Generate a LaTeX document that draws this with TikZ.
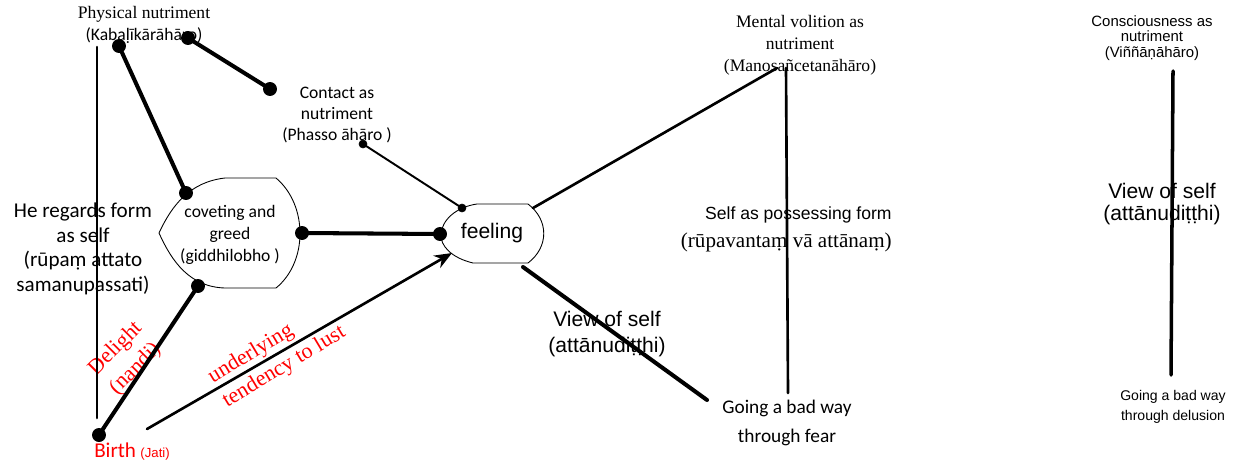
\documentclass[tikz,border=0pt]{standalone}
\usepackage{fontspec}
\setmainfont{Liberation Serif}
\newfontfamily\calibri{Carlito}
\newfontfamily\arial{Liberation Sans}
\usepackage{tikz,tkz-euclide}
\usetikzlibrary{arrows.meta}

\begin{document}
\begin{tikzpicture}[x=0.02cm, y=-0.02cm, >={Stealth[length=10pt,width=8pt]}, line join=round, line cap=round,
	txt/.style={align=center, inner sep=0pt}, lust/.style={txt, text=red, font=\fontsize{12.5}{16}\selectfont}]
	\def \wa{2.3pt} \def \wb{1.5pt}
	\useasboundingbox (0,0) rectangle (1236,463);
	
	\coordinate (P1) at (119,46);
	\coordinate (P2) at (188,38);
	\coordinate (C0) at (270,89);
	\coordinate (C1) at (363,144);
	\coordinate (G1) at (186,193);
	\coordinate (G2) at (198,286);
	\coordinate (G3) at (302,233);
	\coordinate (F1) at (440,234);
	\coordinate (F2) at (462,208);
	\coordinate (F3) at (533,208);
	\coordinate (F4) at (523,267);
	\coordinate (B) at (99,435);
	\coordinate (V1) at (97,47);
	\coordinate (V2) at (97,418);
	\coordinate (A1) at (147,429);
	\coordinate (A2) at (452,253);
	\coordinate (M1) at (777,68);
	\coordinate (M2) at (786,68);
	\coordinate (M3) at (788,393);
	\coordinate (R1) at (707,400);
	\coordinate (K1) at (1173,71);
	\coordinate (K2) at (1171,375);
	
	\node[txt, font=\fontsize{10}{12.5}\selectfont] (phys) at (144,25) {Physical nutriment\\{\calibri (Kabaḷīkārāhāro)}};
	\node[txt, font=\calibri\fontsize{10}{12}\selectfont] (contact) at (337,115) {Contact as\\nutriment\\(Phasso āhāro )};
	\node[txt, font=\fontsize{10}{12.5}\selectfont] (mental) at (800,45) {Mental volition as\\nutriment\\(Manosañcetanāhāro)};
	\node[txt, font=\arial\fontsize{8.5}{8.8}\selectfont] (consc) at (1152,38) {Consciousness as\\nutriment\\(Viññāṇāhāro)};
	
	\node[txt, font=\calibri\fontsize{12}{14}\selectfont] (regards) at (83,249) {He regards form\\as self\\(rūpaṃ attato\\samanupassati)};
	\node[txt, font=\calibri\fontsize{10}{12.5}\selectfont] (greed) at (230,235) {coveting and\\greed\\(giddhilobho )};
	\node[txt, font=\arial\fontsize{12}{14}\selectfont] (feeling) at (492,233) {feeling};
	\node[txt, align=right, anchor=east, font=\fontsize{12}{16}\selectfont] (possess) at (892,229) {{\arial\fontsize{10}{16}\selectfont Self as possessing form}\\(rūpavantaṃ vā attānaṃ)};
	\node[txt, font=\arial\fontsize{12}{14.7}\selectfont] (viewmid) at (607,334) {View of self\\(attānudiṭṭhi)};
	\node[txt, font=\arial\fontsize{12}{12.5}\selectfont] (viewright) at (1162,204) {View of self\\(attānudiṭṭhi)};
	\node[txt, font=\calibri\fontsize{11}{16.4}\selectfont] (fear) at (787,423) {Going a bad way\\through fear};
	\node[txt, font=\arial\fontsize{8}{11.3}\selectfont] (delusion) at (1173,407) {Going a bad way\\through delusion};
	\node[txt, text=red] (birth) at (132,452) {{\calibri\fontsize{12}{14}\selectfont Birth} {\arial\fontsize{7.5}{9}\selectfont (Jati)}};
	\node[lust, rotate=45] (delight) at (126,359) {Delight\\(nandi)};
	\node[lust, align=left, rotate=31] (tendency) at (277,355) {underlying\\tendency to lust};
	
	% coveting and greed
	\draw[line width=0.5pt] (159,233) .. controls (172,205) and (190,182) .. (225,178) -- (276,178)
		.. controls (308,205) and (308,262) .. (276,288) -- (225,288) .. controls (190,287) and (172,262) .. cycle;
	% feeling
	\draw[line width=0.5pt] (477,204) -- (528,204) .. controls (549,220) and (549,247) .. (528,263) -- (473,263)
		.. controls (452,258) and (440,246) .. (441,234) .. controls (442,220) and (456,207) .. cycle;
	
	\tkzDrawSegments[line width=\wa](P1,G1 P2,C0 G2,B G3,F1 F4,R1)
	\tkzDrawSegments[line width=\wb](V1,V2 F3,M1 M2,M3)
	\tkzDrawSegments[line width=2pt](K1,K2)
	\tkzDrawSegments[line width=1.1pt](C1,F2)
	\draw[->, line width=\wb] (A1) -- (A2);
	
	\tkzDrawPoints[fill=black,size=7.5](P1,P2,C0,G1,G2,G3,F1,B)
	\tkzDrawPoints[fill=black,size=4.5](C1,F2)
\end{tikzpicture}
\end{document}
